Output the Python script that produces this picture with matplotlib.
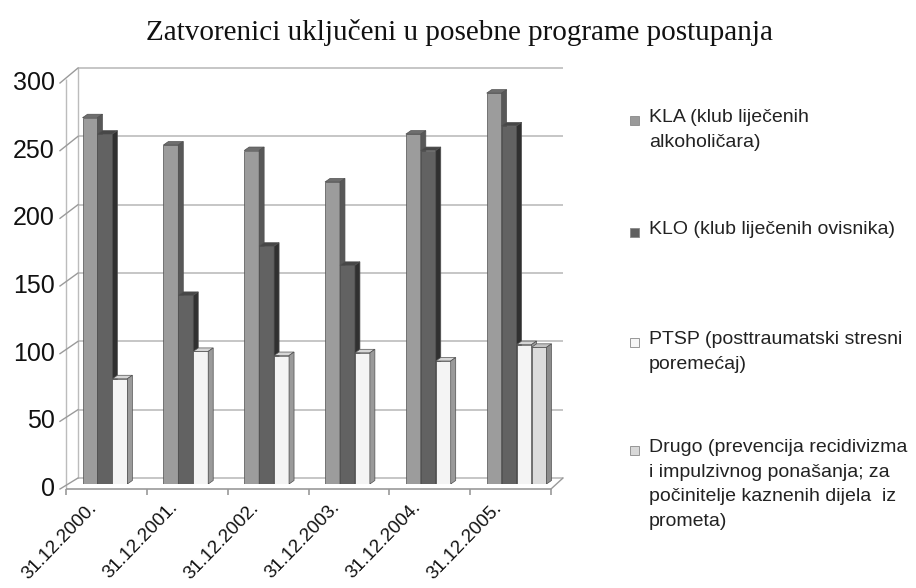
import numpy as np
import matplotlib
matplotlib.use("Agg")
import matplotlib.pyplot as plt
from matplotlib.patches import Polygon, Rectangle
from matplotlib.lines import Line2D
from matplotlib.transforms import offset_copy

# data
dates = ["31.12.2000.", "31.12.2001.", "31.12.2002.", "31.12.2003.", "31.12.2004.", "31.12.2005."]
kla = [268, 248, 244, 221, 256, 286]
klo = [256, 138, 174, 160, 244, 262]
ptsp = [77, 97, 94, 96, 90, 102]
drugo = [np.nan, np.nan, np.nan, np.nan, np.nan, 100]
labels = [
    "KLA (klub liječenih\nalkoholičara)",
    "KLO (klub liječenih ovisnika)",
    "PTSP (posttraumatski stresni\nporemećaj)",
    "Drugo (prevencija recidivizma\ni impulzivnog ponašanja; za\npočinitelje kaznenih dijela  iz\nprometa)",
]
yticks = [0, 50, 100, 150, 200, 250, 300]

# (front, top, side) shades for each series
shades = [
    ("#9c9c9c", "#6e6e6e", "#585858"),
    ("#626262", "#474747", "#303030"),
    ("#f4f4f4", "#d6d6d6", "#9a9a9a"),
    ("#dcdcdc", "#c4c4c4", "#8c8c8c"),
]
legend_colors = ["#9a9a9a", "#606060", "#f6f6f6", "#d8d8d8"]

W, H = 916, 588
fig = plt.figure(figsize=(W / 100, H / 100), dpi=100)
fig.patch.set_facecolor("white")

# axes = middle depth plane of the 3D box
ax = fig.add_axes([72 / W, 1 - 484 / H, 485 / W, 410 / H])
n = len(dates)
ax.set_xlim(0, n)
ax.set_ylim(0, 300)
ax.axis("off")

back = offset_copy(ax.transData, fig=fig, x=6, y=6, units="dots")
front = offset_copy(ax.transData, fig=fig, x=-6, y=-5, units="dots")

grid_c = "#bcbcbc"
ax.hlines(yticks, 0, n, transform=back, colors=grid_c, lw=1.2, zorder=0, clip_on=False)
ax.vlines(0, 0, 300, transform=back, colors=grid_c, lw=1, zorder=0, clip_on=False)
ax.vlines(0, 0, 300, transform=front, colors=grid_c, lw=1, zorder=0, clip_on=False)

to_fig = fig.transFigure.inverted()


def link(p_from, p_to, color=grid_c, lw=1.0):
    a = to_fig.transform(p_from)
    b = to_fig.transform(p_to)
    fig.add_artist(Line2D([a[0], b[0]], [a[1], b[1]], color=color, lw=lw,
                          transform=fig.transFigure))


# left wall stubs + tick labels (front face of the wall is a bit taller per unit)
for v in yticks:
    yf = 489 - v * 406 / 300
    pb = back.transform((0, v))
    link((60, H - yf), pb, color="#9a9a9a")
    fig.text(55 / W, 1 - yf / H, str(v), ha="right", va="center", fontsize=18,
             family="Liberation Sans", color="#111111")

# floor
ax.hlines(0, 0, n, transform=front, colors="#999999", lw=1.2, clip_on=False)
ax.vlines(np.arange(n + 1), -4.5, 0, transform=front, colors="#999999", lw=1.2, clip_on=False)
link(front.transform((n, 0)), back.transform((n, 0)), color="#999999")

for i, d in enumerate(dates):
    ax.text(i + 0.5, 0, d, transform=offset_copy(ax.transData, fig=fig, x=-24, y=-15, units="dots"),
            rotation=46, rotation_mode="anchor", ha="right", va="top",
            fontsize=13.5, family="Liberation Sans", color="#111111")

# 3D-looking bars
bw = 0.185
ddx = 5 / 80.8
ddy = 3.5 / 1.367
ec = "#505050"
for k, vals in enumerate([kla, klo, ptsp, drugo]):
    fc, tc, sc = shades[k]
    lefts = np.arange(n) + 0.5 - 2 * bw + k * bw
    z = 3 + k
    ax.bar(lefts, vals, width=bw, align="edge", color=fc, edgecolor=ec, lw=0.5, zorder=z)
    for x0, h in zip(lefts, vals):
        if np.isnan(h):
            continue
        top = [(x0, h), (x0 + bw, h), (x0 + bw + ddx, h + ddy), (x0 + ddx, h + ddy)]
        side = [(x0 + bw, 0), (x0 + bw + ddx, ddy), (x0 + bw + ddx, h + ddy), (x0 + bw, h)]
        ax.add_patch(Polygon(top, closed=True, facecolor=tc, edgecolor=ec, lw=0.5, zorder=z))
        ax.add_patch(Polygon(side, closed=True, facecolor=sc, edgecolor=ec, lw=0.5, zorder=z))

# legend
leg_y = [120, 232, 342, 450]
for lab, c, y in zip(labels, legend_colors, leg_y):
    fig.add_artist(Rectangle((630 / W, 1 - (y + 4.5) / H), 9 / W, 9 / H, facecolor=c,
                             edgecolor="#888888", lw=0.6, transform=fig.transFigure))
    fig.text(649 / W, 1 - (y - 11) / H, lab, ha="left", va="top", fontsize=14,
             family="Liberation Sans", color="#222222", linespacing=1.58)

fig.text(459 / W, 1 - 33 / H, "Zatvorenici uključeni u posebne programe postupanja",
         ha="center", va="center", fontsize=21, family="Liberation Serif", color="#111111")

fig.savefig("out.png", dpi=100)
